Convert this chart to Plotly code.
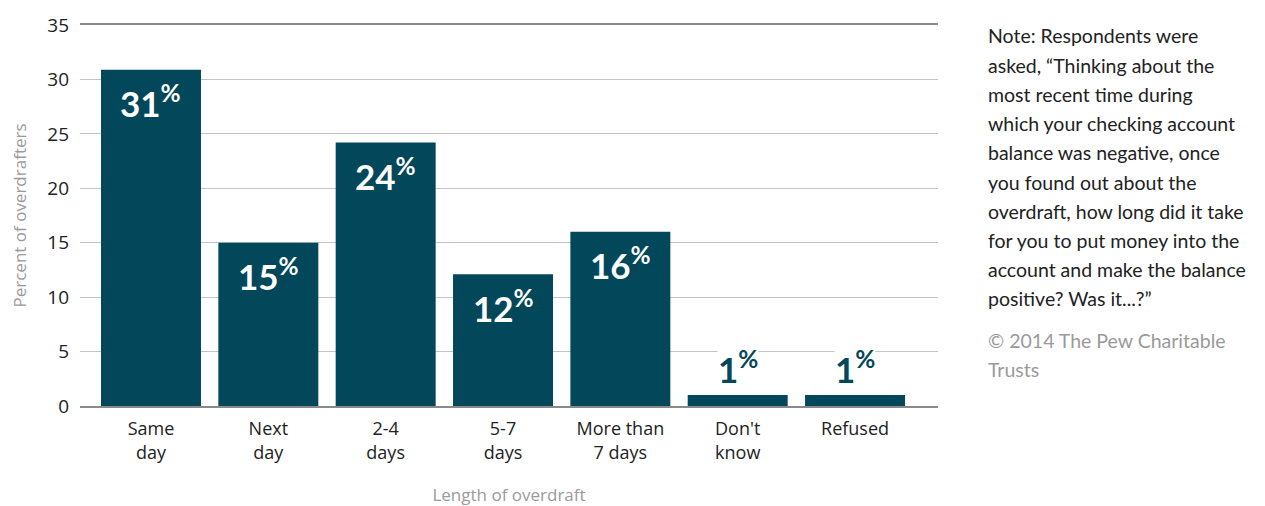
import plotly.graph_objects as go

categories = ["Same<br>day", "Next<br>day", "2-4<br>days", "5-7<br>days", "More than<br>7 days", "Don't<br>know", "Refused"]
values = [30.9, 15.0, 24.2, 12.1, 16.0, 1.0, 1.0]
labels = ["31", "15", "24", "12", "16", "1", "1"]
y_ticks = [0, 5, 10, 15, 20, 25, 30, 35]

note_lines = [
    "Note: Respondents were",
    "asked, \u201cThinking about the",
    "most recent time during",
    "which your checking account",
    "balance was negative, once",
    "you found out about the",
    "overdraft, how long did it take",
    "for you to put money into the",
    "account and make the balance",
    "positive? Was it...?\u201d",
]
credit_lines = ["\u00a9 2014 The Pew Charitable", "Trusts"]

BAR = "#03475a"

# page has an 8px body margin; figure is sized/placed to compensate
OFF = 8
W, H = 1265 - OFF, 506 - OFF
ml, mt = 80 - OFF, 25 - OFF
mr = W - (938 - OFF)
mb = H - (406 - OFF)
pw, ph = W - ml - mr, H - mt - mb

fig = go.Figure()
fig.add_trace(go.Bar(
    x=categories, y=values, marker=dict(color=BAR, line=dict(width=0)),
    width=0.852, hoverinfo="skip",
))

for cat, v, lab in zip(categories, values, labels):
    inside = v > 5
    fig.add_annotation(
        x=cat, y=(v - 2.9) if inside else (v + 2.6), xref="x", yref="y",
        text=f"<b>{lab}<sup>%</sup></b>", showarrow=False,
        font=dict(family="Lato", size=35, weight=900, color="white" if inside else BAR),
        bgcolor=None if inside else "white", borderpad=0,
    )

def px_to_paper(xp, yp):
    # xp, yp in page pixels
    return (xp - OFF - ml) / pw, 1 - (yp - OFF - mt) / ph

for i, line in enumerate(note_lines):
    px, py = px_to_paper(986, 36 + i * 29.2)
    fig.add_annotation(
        x=px, y=py, xref="paper", yref="paper", text=line,
        showarrow=False, xanchor="left", yanchor="middle",
        font=dict(family="Lato", size=19.5, color="#222"),
    )
for i, line in enumerate(credit_lines):
    px, py = px_to_paper(986, 340 + i * 29.2)
    fig.add_annotation(
        x=px, y=py, xref="paper", yref="paper", text=line,
        showarrow=False, xanchor="left", yanchor="middle",
        font=dict(family="Lato", size=19.5, color="#9a9a9a"),
    )

fig.update_layout(
    width=W, height=H, margin=dict(l=ml, r=mr, t=mt, b=mb, autoexpand=False),
    plot_bgcolor="white", paper_bgcolor="white", showlegend=False,
    font=dict(family="Open Sans", color="#222"),
    xaxis=dict(
        type="category", range=[-0.605, 6.707], showgrid=False, automargin=False,
        showline=True, mirror=True, linecolor="#8a8a8a", linewidth=1.5,
        tickfont=dict(size=18, color="#222"), ticks="", ticklabelstandoff=6,
        title=dict(text="Length of overdraft", font=dict(size=17, color="#9a9a9a"), standoff=30),
    ),
    yaxis=dict(
        range=[0, 35], tickvals=y_ticks, showgrid=True, gridcolor="#c4c4c4", gridwidth=1.3,
        zeroline=False, showline=False, ticks="", ticklabelstandoff=10, automargin=False,
        tickfont=dict(size=19, color="#222"),
        title=dict(text="Percent of overdrafters", font=dict(size=17, color="#9a9a9a"), standoff=16),
    ),
)

fig.write_html("out.html")
